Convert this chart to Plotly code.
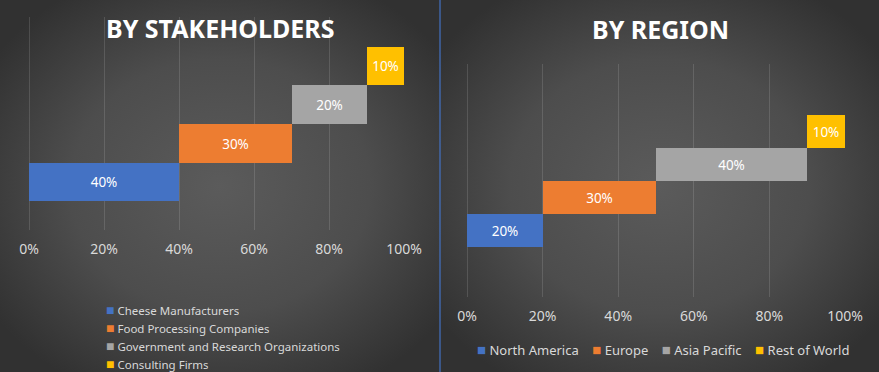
import plotly.graph_objects as go
import urllib.parse

# ---------------- data ----------------
stake_categories = ["Cheese Manufacturers", "Food Processing Companies",
                    "Government and Research Organizations", "Consulting Firms"]
stake_values = [40, 30, 20, 10]

region_categories = ["North America", "Europe", "Asia Pacific", "Rest of World"]
region_values = [20, 30, 40, 10]

tick_values = [0, 20, 40, 60, 80, 100]
tick_labels = ["0%", "20%", "40%", "60%", "80%", "100%"]

colors = ["#4472C4", "#ED7D31", "#A5A5A5", "#FFC000"]

FONT = "Noto Sans"
W, H = 879, 372

fig = go.Figure()


def add_steps(cats, vals, xa, ya):
    start = 0
    for i, (c, v) in enumerate(zip(cats, vals)):
        fig.add_trace(go.Bar(
            orientation="h", y=[i], x=[v], base=[start], name=c,
            marker=dict(color=colors[i], line=dict(width=0)),
            width=1.0, text=[f"{v}%"], textposition="inside",
            insidetextanchor="middle",
            textfont=dict(color="white", size=13.5, family=FONT),
            xaxis=xa, yaxis=ya, showlegend=False,
            hoverinfo="skip",
        ))
        start += v


add_steps(stake_categories, stake_values, "x", "y")
add_steps(region_categories, region_values, "x2", "y2")


def radial_svg():
    svg = (
        "<svg xmlns='http://www.w3.org/2000/svg' width='440' height='372' "
        "preserveAspectRatio='none'>"
        "<defs><radialGradient id='g' cx='50%' cy='50%' r='62%'>"
        "<stop offset='0%' stop-color='#5b5b5b'/>"
        "<stop offset='55%' stop-color='#4d4d4d'/>"
        "<stop offset='100%' stop-color='#313131'/>"
        "</radialGradient></defs>"
        "<rect width='440' height='372' fill='url(#g)'/></svg>"
    )
    return "data:image/svg+xml;charset=utf-8," + urllib.parse.quote(svg)


def sq(i, size):
    return f"<span style='color:{colors[i]};font-size:{size}px'>■</span>"


annotations = [
    dict(text="<b>BY STAKEHOLDERS</b>", x=220 / W, y=1 - 28 / H,
         xref="paper", yref="paper", showarrow=False,
         font=dict(size=25, color="white", family=FONT),
         xanchor="center", yanchor="middle"),
    dict(text="<b>BY REGION</b>", x=660 / W, y=1 - 29 / H,
         xref="paper", yref="paper", showarrow=False,
         font=dict(size=25, color="white", family=FONT),
         xanchor="center", yanchor="middle"),
]
# left (vertical) legend, one entry per line
for i, c in enumerate(stake_categories):
    annotations.append(dict(
        text=f"{sq(i, 14)} {c}", x=104 / W, y=1 - (309 + 18.3 * i) / H,
        xref="paper", yref="paper", showarrow=False, align="left",
        font=dict(size=11.5, color="#d9d9d9", family=FONT),
        xanchor="left", yanchor="middle", height=17, valign="middle"))
# right (horizontal) legend
legend_right = "    ".join(f"{sq(i, 15)} {c}" for i, c in enumerate(region_categories))
annotations.append(dict(
    text=legend_right, x=663 / W, y=1 - 349 / H,
    xref="paper", yref="paper", showarrow=False, align="left",
    font=dict(size=13, color="#d9d9d9", family=FONT),
    xanchor="center", yanchor="middle"))

axis_common = dict(
    range=[0, 100], tickvals=tick_values, ticktext=tick_labels,
    showgrid=True, gridcolor="rgba(255,255,255,0.13)", gridwidth=1,
    zeroline=True, zerolinecolor="rgba(255,255,255,0.13)", zerolinewidth=1,
    showline=False, ticks="", fixedrange=True, automargin=False,
    tickfont=dict(color="#d9d9d9", size=14, family=FONT),
    ticklabelstandoff=9,
)

fig.update_layout(
    width=W, height=H, autosize=False,
    margin=dict(l=0, r=0, t=0, b=0, pad=0, autoexpand=False),
    paper_bgcolor="#3a3a3a", plot_bgcolor="rgba(0,0,0,0)",
    barmode="overlay", bargap=0,
    font=dict(family=FONT, color="#d9d9d9"),
    showlegend=False,
    xaxis=dict(domain=[29 / W, 404 / W], anchor="y", **axis_common),
    yaxis=dict(domain=[1 - 230 / H, 1 - 17 / H], range=[-1.24, 4.27],
               visible=False, fixedrange=True, automargin=False),
    xaxis2=dict(domain=[467 / W, 845 / W], anchor="y2", **axis_common),
    yaxis2=dict(domain=[1 - 297 / H, 1 - 64 / H], range=[-2.02, 5.05],
                visible=False, fixedrange=True, automargin=False),
    images=[
        dict(source=radial_svg(), xref="paper", yref="paper", x=0, y=1,
             sizex=440 / W, sizey=1, sizing="stretch", layer="below",
             xanchor="left", yanchor="top"),
        dict(source=radial_svg(), xref="paper", yref="paper", x=440 / W, y=1,
             sizex=439 / W, sizey=1, sizing="stretch", layer="below",
             xanchor="left", yanchor="top"),
    ],
    shapes=[
        dict(type="line", xref="paper", yref="paper", x0=440 / W, x1=440 / W,
             y0=0, y1=1, line=dict(color="#4472C4", width=1.2)),
    ],
    annotations=annotations,
)

fig.write_html(
    "out.html",
    config={"displayModeBar": False},
    post_script="document.body.style.margin='0';document.body.style.overflow='hidden';",
)
